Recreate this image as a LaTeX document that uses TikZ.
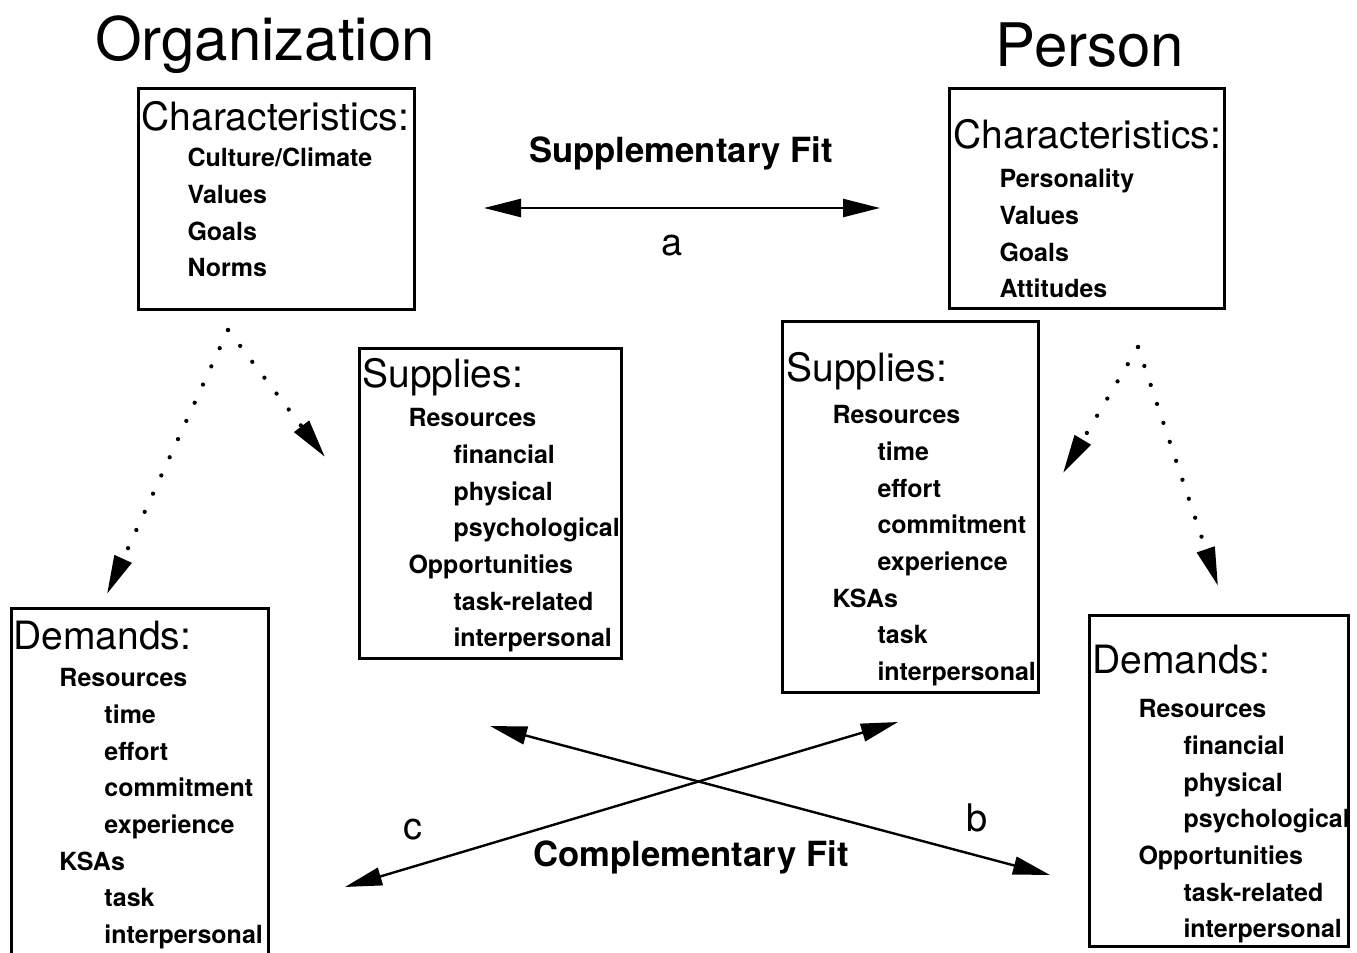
\documentclass[tikz,border=0pt]{standalone}
\usepackage{fontspec}
\setmainfont{TeX Gyre Heros}
\usetikzlibrary{arrows.meta}

\tikzset{every picture/.style={line width=0.75pt}}
\tikzset{
  framebox/.style={draw, line width=2pt, inner sep=0pt, anchor=north west},
  itemlist/.style={anchor=base west, inner sep=0pt},
  title/.style={anchor=base, inner sep=0pt, font=\fontsize{45}{54}\selectfont},
  fitlabel/.style={anchor=base, inner sep=0pt, font=\fontsize{26}{31}\selectfont\bfseries},
  letter/.style={anchor=base, inner sep=0pt, font=\fontsize{28.5}{34}\selectfont},
  fitarrow/.style={line width=1.8pt, {Triangle[length=27.75pt,width=13.5pt]}-{Triangle[length=27.75pt,width=13.5pt]}},
  dotarrow/.style={line width=3.2pt, line cap=round, dash pattern=on 0pt off 15pt, -{Triangle[length=29pt,width=13.5pt]}}
}
\newcommand{\boxhead}[1]{{\fontsize{29.25}{27.5}\selectfont\mdseries #1}}
\newcommand{\lvlone}[1]{\hspace*{34.5pt}#1}
\newcommand{\lvltwo}[1]{\hspace*{68.25pt}#1}
\newcommand{\boxlist}[1]{\parbox[t]{250pt}{\raggedright\fontsize{18.75}{27.5}\selectfont\bfseries #1}}

\begin{document}
\begin{tikzpicture}[x=0.75pt,y=0.75pt,yscale=-1,xscale=1]
\useasboundingbox (0,0) rectangle (1357,953);

% Titles
\node[title] (orgtitle) at (265,60) {Organization};
\node[title] (pertitle) at (1090,66) {Person};

%Shape: Rectangle (organization characteristics)
\node[framebox, minimum width=207pt, minimum height=165.75pt] (orgchar) at (137,87) {};
\node[itemlist] (orgcharlist) at (141,130) {\boxlist{\boxhead{Characteristics:}\\
  \lvlone{Culture/Climate}\\ \lvlone{Values}\\ \lvlone{Goals}\\ \lvlone{Norms}}};

%Shape: Rectangle (person characteristics)
\node[framebox, minimum width=206.25pt, minimum height=165pt] (perchar) at (948,87) {};
\node[itemlist] (percharlist) at (953,148) {\boxlist{\boxhead{Characteristics:}\\[2.25pt]
  \lvlone{Personality}\\ \lvlone{Values}\\ \lvlone{Goals}\\ \lvlone{Attitudes}}};

%Shape: Rectangle (organization supplies)
\node[framebox, minimum width=196.5pt, minimum height=232.5pt] (orgsup) at (358,347) {};
\node[itemlist] (orgsuplist) at (362,387) {\boxlist{\boxhead{Supplies:}\\[2.25pt]
  \lvlone{Resources}\\ \lvltwo{financial}\\ \lvltwo{physical}\\ \lvltwo{psychological}\\
  \lvlone{Opportunities}\\ \lvltwo{task-related}\\ \lvltwo{interpersonal}}};

%Shape: Rectangle (person supplies)
\node[framebox, minimum width=192pt, minimum height=278.25pt] (persup) at (781,320) {};
\node[itemlist] (persuplist) at (786,381) {\boxlist{\boxhead{Supplies:}\\[4.5pt]
  \lvlone{Resources}\\ \lvltwo{time}\\ \lvltwo{effort}\\ \lvltwo{commitment}\\ \lvltwo{experience}\\
  \lvlone{KSAs}\\ \lvltwo{task}\\ \lvltwo{interpersonal}}};

%Shape: Rectangle (organization demands)
\node[framebox, minimum width=192.75pt, minimum height=261.75pt] (orgdem) at (10,607) {};
\node[itemlist] (orgdemlist) at (13,649) {\boxlist{\boxhead{Demands:}\\[0.75pt]
  \lvlone{Resources}\\ \lvltwo{time}\\ \lvltwo{effort}\\ \lvltwo{commitment}\\ \lvltwo{experience}\\
  \lvlone{KSAs}\\ \lvltwo{task}\\ \lvltwo{interpersonal}}};

%Shape: Rectangle (person demands)
\node[framebox, minimum width=194.25pt, minimum height=248.25pt] (perdem) at (1088,614) {};
\node[itemlist] (perdemlist) at (1092,673) {\boxlist{\boxhead{Demands:}\\[6pt]
  \lvlone{Resources}\\ \lvltwo{financial}\\ \lvltwo{physical}\\ \lvltwo{psychological}\\
  \lvlone{Opportunities}\\ \lvltwo{task-related}\\ \lvltwo{interpersonal}}};

% Arrow ends
\coordinate (orgapex) at (228,330);
\coordinate (orgsuptip) at (325,457);
\coordinate (orgdemtip) at (107,594);
\coordinate (perapex) at (1138,347);
\coordinate (persuptip) at (1063,473);
\coordinate (perdemtip) at (1218,586);
\coordinate (supfitl) at (484,208);
\coordinate (supfitr) at (880,208);
\coordinate (bfitl) at (490,726);
\coordinate (bfitr) at (1050,875);
\coordinate (cfitl) at (345,887);
\coordinate (cfitr) at (898,722);

%Dotted Lines
\draw[dotarrow] (orgapex) -- (orgsuptip);
\draw[dotarrow] (orgapex) -- (orgdemtip);
\draw[dotarrow] (perapex) -- (persuptip);
\draw[dotarrow] (perapex) -- (perdemtip);

%Straight Lines
\draw[fitarrow] (supfitl) -- (supfitr);
\draw[fitarrow] (bfitl) -- (bfitr);
\draw[fitarrow] (cfitl) -- (cfitr);

% Text Node
\node[fitlabel] (supfit) at (681,162) {Supplementary Fit};
\node[fitlabel] (compfit) at (691,866) {Complementary Fit};
\node[letter] (alabel) at (672,255) {a};
\node[letter] (blabel) at (977,831) {b};
\node[letter] (clabel) at (413,839) {c};

\end{tikzpicture}
\end{document}
